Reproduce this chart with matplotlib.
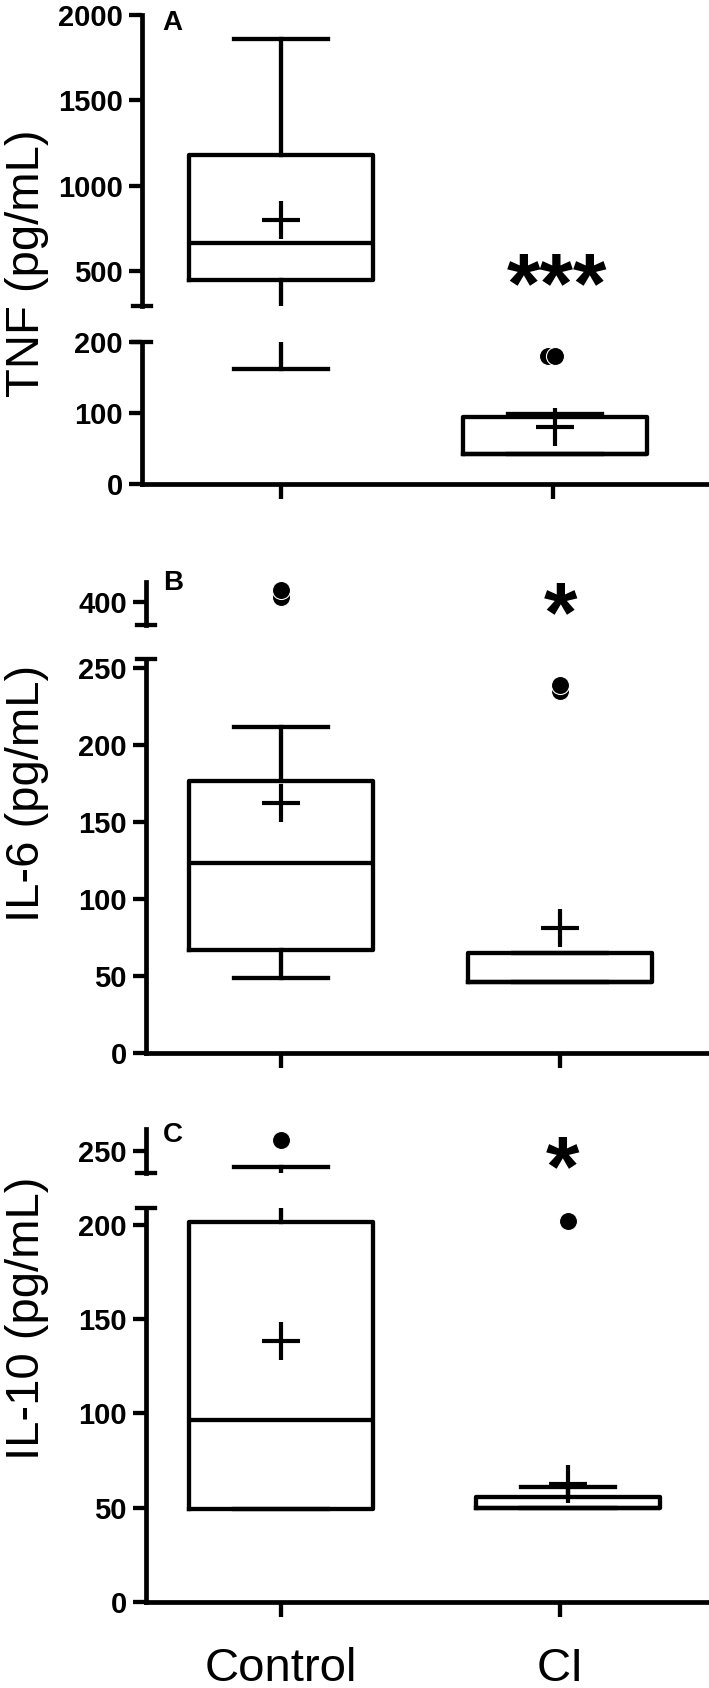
import matplotlib.pyplot as plt
import numpy as np

plt.rcParams['font.family'] = ['Liberation Sans', 'DejaVu Sans']

groups = ['Control', 'CI']

# A: TNF (pg/mL)
tnf_q1 = [447, 42]
tnf_med = [666, 42]
tnf_q3 = [1179, 95]
tnf_lo = [162, 42]
tnf_hi = [1859, 99]
tnf_mean = [800, 80.5]
tnf_out = [[], [181, 181]]

# B: IL-6 (pg/mL)
il6_q1 = [67, 46.5]
il6_med = [123.7, 46.5]
il6_q3 = [177, 65]
il6_lo = [49, 46.5]
il6_hi = [211.6, 65]
il6_mean = [162.3, 81.6]
il6_out = [[403.4, 408], [235, 239.2]]

# C: IL-10 (pg/mL)
il10_q1 = [49.2, 49.5]
il10_med = [96.3, 49.5]
il10_q3 = [201.8, 55.5]
il10_lo = [49.2, 49.5]
il10_hi = [241.5, 60.7]
il10_mean = [138.5, 62.3]
il10_out = [[255.7], [202]]

W, H = 709, 1688
fig = plt.figure(figsize=(W / 100, H / 100), dpi=100)

LW = 3.1
SPW = 3.4
PXU = 276.0   # pixels per category step
X0 = 281.0    # pixel column of the Control group
BOXW = 0.667
CAPW = 0.337


def px2x(px):
    return (px - X0) / PXU


def add_ax(left, top, bottom):
    return fig.add_axes([left / W, 1 - bottom / H, (W - left) / W, (bottom - top) / H])


def make_stats(q1, med, q3, lo, hi, mean):
    out = []
    for i in range(len(q1)):
        out.append(dict(q1=q1[i], med=med[i], q3=q3[i], whislo=lo[i],
                        whishi=hi[i], mean=mean[i], fliers=[]))
    return out


def draw_part(ax, p, ylim, yticks, lower, labels):
    line = dict(color='black', lw=LW, solid_capstyle='projecting')
    pos = [0, px2x(p['ci_box'])]
    ax.bxp(p['stats'], positions=pos, widths=BOXW, capwidths=CAPW,
           showmeans=True, showfliers=False, manage_ticks=False,
           boxprops=dict(color='black', lw=LW), whiskerprops=dict(color='black', lw=LW),
           capprops=line, medianprops=dict(color='black', lw=LW),
           meanprops=dict(marker='+', markeredgecolor='black',
                          markersize=27, markeredgewidth=3.0))
    # outliers, equal values nudged apart a bit
    for i, vals in enumerate(p['out']):
        for k, v in enumerate(vals):
            if ylim[0] <= v <= ylim[1]:
                dx = -0.024 if v in vals[k + 1:] else 0
                ax.plot(pos[i] + dx, v, 'o', color='black', mec='white', mew=0.8,
                        ms=13, clip_on=False, zorder=5)
    ax.set_xlim(px2x(p['axl']), px2x(W))
    ax.set_ylim(*ylim)
    ax.set_yticks(yticks)
    ax.tick_params(axis='y', length=9.6, width=LW, labelsize=21, pad=4.0)
    for t in ax.get_yticklabels():
        t.set_fontweight('bold')
    for s in ['top', 'right']:
        ax.spines[s].set_visible(False)
    ax.spines['left'].set_linewidth(SPW)
    ax.spines['bottom'].set_linewidth(SPW)
    cw = 9.0 / (W - p['axl'])
    if lower:
        ax.set_xticks([0, px2x(p['ci_tick'])])
        ax.tick_params(axis='x', length=10.8, width=LW, labelsize=34, pad=22)
        if labels:
            ax.set_xticklabels(groups)
        else:
            ax.set_xticklabels([])
        # break mark on top of the lower segment
        ax.plot([-cw, cw], [1, 1], transform=ax.transAxes,
                color='black', lw=LW, clip_on=False)
    else:
        ax.spines['bottom'].set_visible(False)
        ax.set_xticks([])
        ax.plot([-cw, cw], [0, 0], transform=ax.transAxes,
                color='black', lw=LW, clip_on=False)
    ax.patch.set_alpha(0)


panels = [
    dict(stats=make_stats(tnf_q1, tnf_med, tnf_q3, tnf_lo, tnf_hi, tnf_mean), out=tnf_out,
         axl=141.7, ci_box=555, ci_tick=553,
         up=(15.0, 306.0, (297, 2000), [500, 1000, 1500, 2000]),
         low=(342.3, 484.0, (0, 200), [0, 100, 200]),
         letter='A', lpos=(172.5, 23.5), star='***', spos=(556.6, 312.5),
         ylabel='TNF (pg/mL)', ypos=263),
    dict(stats=make_stats(il6_q1, il6_med, il6_q3, il6_lo, il6_hi, il6_mean), out=il6_out,
         axl=145.7, ci_box=560, ci_tick=560,
         up=(581.7, 625.0, (385.3, 413.3), [400]),
         low=(659.3, 1053.3, (0, 255.8), [0, 50, 100, 150, 200, 250]),
         letter='B', lpos=(173, 582.5), star='*', spos=(560.5, 641),
         ylabel='IL-6 (pg/mL)', ypos=793),
    dict(stats=make_stats(il10_q1, il10_med, il10_q3, il10_lo, il10_hi, il10_mean), out=il10_out,
         axl=145.7, ci_box=568, ci_tick=560,
         up=(1129.3, 1172.7, (238.3, 261.4), [250]),
         low=(1207.7, 1601.7, (0, 209.2), [0, 50, 100, 150, 200]),
         letter='C', lpos=(173, 1135), star='*', spos=(563, 1195),
         ylabel='IL-10 (pg/mL)', ypos=1318),
]

for n, p in enumerate(panels):
    top, bot, ylim, yt = p['up']
    ax_up = add_ax(p['axl'], top, bot)
    draw_part(ax_up, p, ylim, yt, False, False)
    top, bot, ylim, yt = p['low']
    ax_low = add_ax(p['axl'], top, bot)
    draw_part(ax_low, p, ylim, yt, True, n == 2)

    fig.text(p['lpos'][0] / W, 1 - p['lpos'][1] / H, p['letter'],
             ha='center', va='center', fontsize=20, fontweight='bold')
    fig.text(p['spos'][0] / W, 1 - p['spos'][1] / H, p['star'],
             ha='center', va='baseline', fontsize=62, fontweight='bold')
    fig.text(27 / W, 1 - p['ypos'] / H, p['ylabel'], rotation=90,
             ha='center', va='center', fontsize=34)

fig.savefig('out.png', dpi=100)
